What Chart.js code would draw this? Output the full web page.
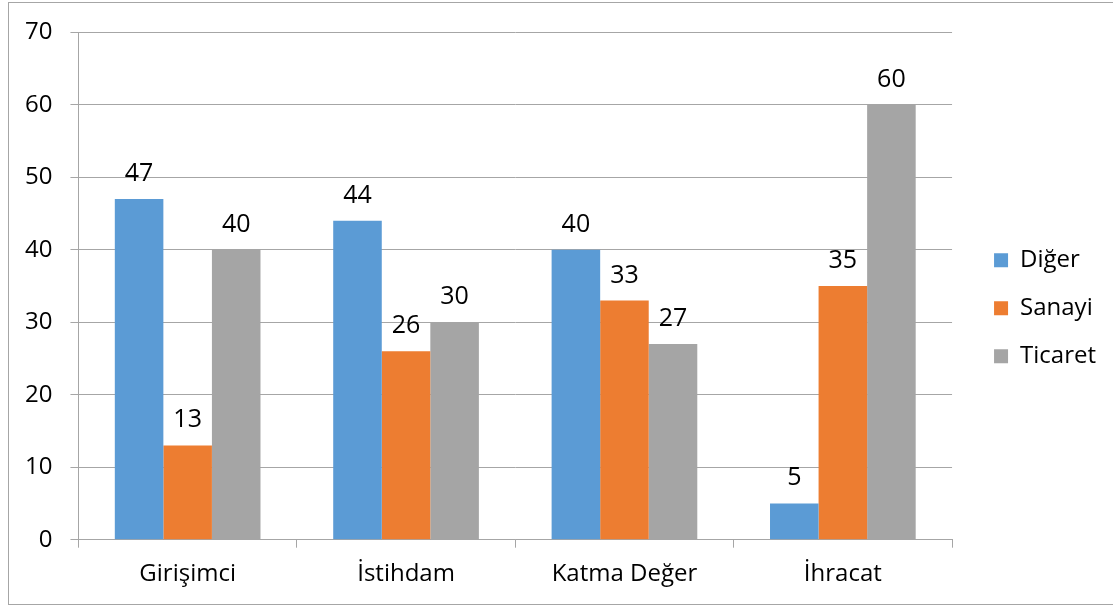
<!DOCTYPE html>
<html>
<head>
<meta charset="utf-8">
<script src="https://cdn.jsdelivr.net/npm/chart.js@4.4.1/dist/chart.umd.min.js"></script>
<style>
  html, body { margin: 0; padding: 0; background: #fff; }
  #frame {
    position: absolute; left: 8px; top: 2px; width: 1110px; height: 603px;
    border: 1px solid #a6a6a6; box-sizing: border-box;
  }
  #wrap { position: absolute; left: 0; top: 0; width: 1113px; height: 610px; }
</style>
</head>
<body>
<div id="frame"></div>
<div id="wrap"><canvas id="chart"></canvas></div>
<script>
const categories = ['Girişimci', 'İstihdam', 'Katma Değer', 'İhracat'];
const seriesNames = ['Diğer', 'Sanayi', 'Ticaret'];
const digerValues = [47, 44, 40, 5];
const sanayiValues = [13, 26, 33, 35];
const ticaretValues = [40, 30, 27, 60];
const yTicks = [0, 10, 20, 30, 40, 50, 60, 70];

const FONT = "'Open Sans', sans-serif";

// draw value labels above each bar
const barLabels = {
    id: 'barLabels',
    afterDatasetsDraw(chart) {
        const ctx = chart.ctx;
        ctx.save();
        ctx.font = "25px " + FONT;
        ctx.fillStyle = '#000';
        ctx.textAlign = 'center';
        ctx.textBaseline = 'alphabetic';
        chart.data.datasets.forEach((ds, i) => {
            chart.getDatasetMeta(i).data.forEach((bar, j) => {
                ctx.fillText(String(ds.data[j]), bar.x, bar.y - 18);
            });
        });
        ctx.restore();
    }
};

// nudge legend a bit up and right
const legendNudge = {
    id: 'legendNudge',
    afterLayout(chart) {
        const lg = chart.legend;
        lg.top -= 2;
        lg.bottom -= 2;
        lg.left += 2;
        lg.right += 2;
    }
};

function prepareChart()
{
    const data = {
        labels: categories,
        datasets: [
            { label: seriesNames[0], data: digerValues, backgroundColor: '#5B9BD5' },
            { label: seriesNames[1], data: sanayiValues, backgroundColor: '#ED7D31' },
            { label: seriesNames[2], data: ticaretValues, backgroundColor: '#A5A5A5' }
        ]
    };

    const config = {
        type: 'bar',
        data: data,
        plugins: [barLabels, legendNudge],
        options: {
            responsive: true,
            maintainAspectRatio: false,
            animation: false,
            datasets: {
                bar: { categoryPercentage: 0.667, barPercentage: 1.0 }
            },
            layout: {
                padding: { left: 7, right: 9, top: 20, bottom: 9.5 }
            },
            plugins: {
                legend: {
                    position: 'right',
                    labels: {
                        boxWidth: 14,
                        boxHeight: 14,
                        padding: 24,
                        color: '#000',
                        font: { family: FONT, size: 24 }
                    }
                },
                tooltip: { enabled: false }
            },
            scales: {
                x: {
                    grid: {
                        drawOnChartArea: false,
                        drawTicks: true,
                        tickLength: 8,
                        color: '#a6a6a6'
                    },
                    border: { color: '#a6a6a6' },
                    ticks: {
                        padding: 12,
                        color: '#000',
                        font: { family: FONT, size: 24 }
                    }
                },
                y: {
                    min: 0,
                    max: 70,
                    afterBuildTicks(scale) {
                        scale.ticks = yTicks.map(v => ({ value: v }));
                    },
                    grid: {
                        color: '#a6a6a6',
                        tickLength: 8
                    },
                    border: { color: '#a6a6a6' },
                    ticks: {
                        padding: 18,
                        color: '#000',
                        font: { family: FONT, size: 24 }
                    }
                },
                gap: {
                    position: 'right',
                    display: true,
                    grid: { display: false },
                    border: { display: false },
                    ticks: { display: false },
                    afterFit(scale) { scale.width = 16; }
                }
            }
        }
    };

    new Chart(document.getElementById('chart'), config);
}

window.addEventListener('load', prepareChart);
</script>
</body>
</html>
